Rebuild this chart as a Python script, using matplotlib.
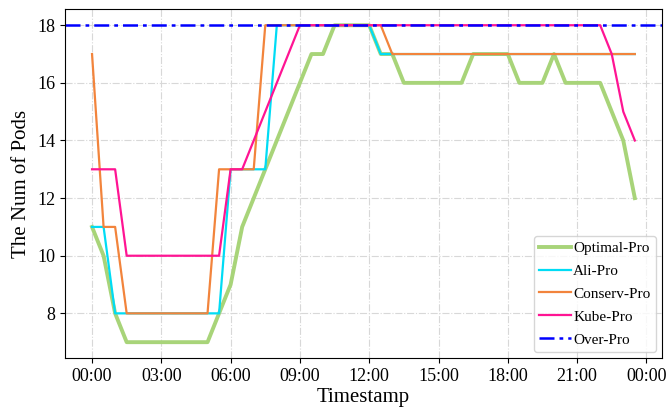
import matplotlib
matplotlib.use('Agg')
import matplotlib.pyplot as plt

plt.rcParams['font.family'] = ['Liberation Serif', 'DejaVu Serif']

# half-hour samples, hours from 00:00
hours = [i * 0.5 for i in range(48)]

optimal_pro = [11, 10, 8, 7, 7, 7, 7, 7, 7, 7, 7, 8, 9, 11, 12, 13,
               14, 15, 16, 17, 17, 18, 18, 18, 18, 17, 17, 16, 16, 16, 16, 16,
               16, 17, 17, 17, 17, 16, 16, 16, 17, 16, 16, 16, 16, 15, 14, 12]
ali_pro = [11, 11, 8, 8, 8, 8, 8, 8, 8, 8, 8, 8, 13, 13, 13, 13,
           18, 18, 18, 18, 18, 18, 18, 18, 18, 17, 17, 17, 17, 17, 17, 17,
           17, 17, 17, 17, 17, 17, 17, 17, 17, 17, 17, 17, 17, 17, 17, 17]
conserv_pro = [17, 11, 11, 8, 8, 8, 8, 8, 8, 8, 8, 13, 13, 13, 13, 18,
               18, 18, 18, 18, 18, 18, 18, 18, 18, 18, 17, 17, 17, 17, 17, 17,
               17, 17, 17, 17, 17, 17, 17, 17, 17, 17, 17, 17, 17, 17, 17, 17]
kube_pro = [13, 13, 13, 10, 10, 10, 10, 10, 10, 10, 10, 10, 13, 13, 14, 15,
            16, 17, 18, 18, 18, 18, 18, 18, 18, 18, 18, 18, 18, 18, 18, 18,
            18, 18, 18, 18, 18, 18, 18, 18, 18, 18, 18, 18, 18, 17, 15, 14]
over_pro = 18

tick_hours = [0, 3, 6, 9, 12, 15, 18, 21, 24]
tick_labels = ['00:00', '03:00', '06:00', '09:00', '12:00', '15:00', '18:00', '21:00', '00:00']

fig = plt.figure(figsize=(6.69, 4.08), dpi=100)
ax = fig.add_axes([0.097, 0.1225, 0.8925, 0.8545])

ax.plot(hours, optimal_pro, color='#a8d479', lw=2.8, label='Optimal-Pro')
ax.plot(hours, ali_pro, color='#00dcf5', lw=1.6, label='Ali-Pro')
ax.plot(hours, conserv_pro, color='#f2843c', lw=1.6, label='Conserv-Pro')
ax.plot(hours, kube_pro, color='#ff1493', lw=1.6, label='Kube-Pro')
ax.axhline(over_pro, color='blue', lw=1.8, ls='-.', dashes=(6, 2, 1.5, 2), label='Over-Pro')

ax.set_xticks(tick_hours)
ax.set_xticklabels(tick_labels)
ax.tick_params(labelsize=13)
ax.set_yticks([8, 10, 12, 14, 16, 18])
ax.set_xlabel('Timestamp', fontsize=15, labelpad=2)
ax.set_ylabel('The Num of Pods', fontsize=15)
ax.grid(True, ls='-.', color='#d8d8d8', lw=0.8)
ax.set_axisbelow(True)

ax.legend(loc='lower right', fontsize=11, handlelength=2.1, handletextpad=0.15,
          borderpad=0.35, labelspacing=0.6, borderaxespad=0.4)

fig.savefig('out.png', dpi=100)
